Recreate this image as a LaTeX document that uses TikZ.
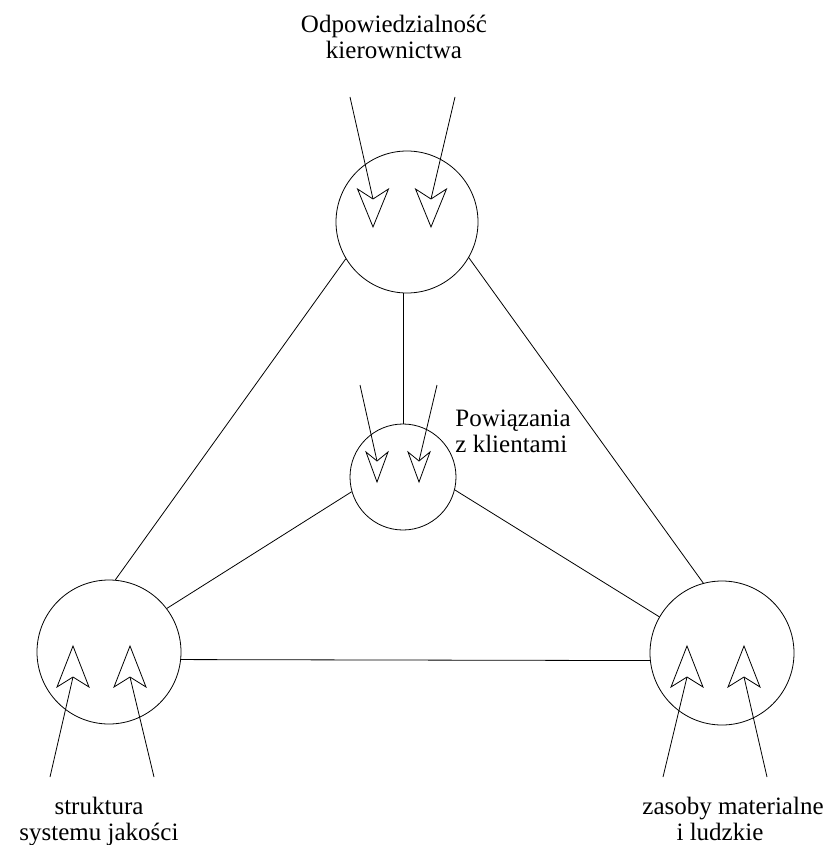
\documentclass[tikz,border=0pt]{standalone}
\usepackage{fontspec}
\setmainfont{Liberation Serif}
\begin{document}
\begin{tikzpicture}[x=1pt,y=-1pt,line width=0.8pt,
  circ/.style={draw,circle,inner sep=0pt,minimum size=#1},
  lbl/.style={inner sep=0pt,font=\fontsize{25}{26}\selectfont},
  ahead/.pic={\draw[fill=white,line join=miter] (0,0) -- (-\aw,-\al) -- (0,-\an) -- (\aw,-\al) -- cycle;}]
\useasboundingbox (0,0) rectangle (828,845);
% circles
\node[circ=142pt] (top) at (407,222) {};
\node[circ=106pt] (mid) at (403,477) {};
\node[circ=144pt] (bl) at (109,652) {};
\node[circ=144pt] (br) at (722,653) {};
% connectors
\draw (top.211) -- (bl.85);
\draw (top.330) -- (br.105);
\draw (mid.north) -- (mid.north |- top.south);
\draw (mid.196) -- (bl.37);
\draw (mid.346) -- (br.150);
\draw (bl.354) -- (br.186);
% arrows into top circle
\def\aw{15.5}\def\al{38}\def\an{28}
\coordinate (ts1) at (350,97); \coordinate (tn1) at (373,199); \coordinate (tt1) at (373,227);
\coordinate (ts2) at (455,97); \coordinate (tn2) at (431,199); \coordinate (tt2) at (431,227);
\draw (ts1) -- (tn1); \pic at (tt1) {ahead};
\draw (ts2) -- (tn2); \pic at (tt2) {ahead};
% arrows into middle circle
\def\aw{11}\def\al{30}\def\an{21}
\coordinate (ms1) at (360,385); \coordinate (mn1) at (377,461); \coordinate (mt1) at (377,482);
\coordinate (ms2) at (437,385); \coordinate (mn2) at (419,461); \coordinate (mt2) at (419,482);
\draw (ms1) -- (mn1); \pic at (mt1) {ahead};
\draw (ms2) -- (mn2); \pic at (mt2) {ahead};
% arrows into bottom circles
\def\aw{16}\def\al{41}\def\an{31}
\coordinate (ls1) at (50,777); \coordinate (ln1) at (73,677); \coordinate (lt1) at (73,646);
\coordinate (ls2) at (154,777); \coordinate (ln2) at (130,677); \coordinate (lt2) at (130,646);
\coordinate (rs1) at (663,777); \coordinate (rn1) at (687,677); \coordinate (rt1) at (687,646);
\coordinate (rs2) at (767,777); \coordinate (rn2) at (744,677); \coordinate (rt2) at (744,646);
\draw (ls1) -- (ln1); \pic[rotate=180] at (lt1) {ahead};
\draw (ls2) -- (ln2); \pic[rotate=180] at (lt2) {ahead};
\draw (rs1) -- (rn1); \pic[rotate=180] at (rt1) {ahead};
\draw (rs2) -- (rn2); \pic[rotate=180] at (rt2) {ahead};
% labels
\node[lbl,align=center,anchor=base] (ltop) at (394,59) {Odpowiedzialność\\kierownictwa};
\node[lbl,align=left,anchor=base west] (lmid) at (455,452) {Powiązania\\z klientami};
\node[lbl,align=center,anchor=base] (lbl) at (99,840) {struktura\\systemu jakości};
\node[lbl,align=center,anchor=base] (lbr) at (733,840) {zasoby materialne\\i ludzkie\rule{26pt}{0pt}};
\end{tikzpicture}
\end{document}
